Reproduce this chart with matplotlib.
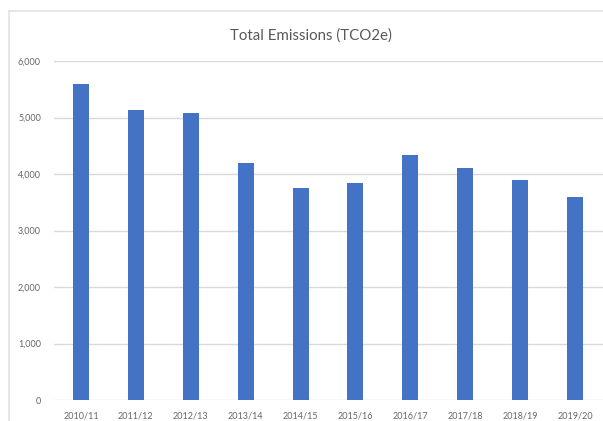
import matplotlib
matplotlib.use("Agg")
import matplotlib.pyplot as plt
from matplotlib.lines import Line2D
from matplotlib.ticker import FuncFormatter

years = ["2010/11", "2011/12", "2012/13", "2013/14", "2014/15",
         "2015/16", "2016/17", "2017/18", "2018/19", "2019/20"]
emissions = [5600, 5130, 5080, 4200, 3750, 3840, 4330, 4110, 3890, 3590]
y_ticks = [0, 1000, 2000, 3000, 4000, 5000, 6000]

W, H = 603, 421
fig = plt.figure(figsize=(W / 100, H / 100), dpi=100)
fig.patch.set_facecolor("white")
plt.rcParams["font.family"] = ["Lato", "DejaVu Sans"]

text_col = "#595959"
grid_col = "#d9d9d9"

# Chart frame (left and top edges)
fig.add_artist(Line2D([9 / W, 9 / W], [0, 1 - 11 / H], color="#e3e3e3", lw=1.2,
                      transform=fig.transFigure))
fig.add_artist(Line2D([9 / W, 1], [1 - 11 / H, 1 - 11 / H], color="#e3e3e3", lw=1.2,
                      transform=fig.transFigure))

left = 53.5 / W
bottom = 21 / H
ax = fig.add_axes([left, bottom, 549 / W, 339 / H])

x = range(len(years))
ax.bar(x, emissions, width=0.29, color="#4472C4", zorder=3)

ax.set_xlim(-0.5, len(years) - 0.5)
ax.set_ylim(0, 6000)
ax.set_yticks(y_ticks)
ax.yaxis.set_major_formatter(FuncFormatter(lambda v, p: f"{int(v):,}"))
ax.set_xticks(list(x))
ax.set_xticklabels(years)

ax.grid(axis="y", color=grid_col, lw=1.0, zorder=0)
ax.set_axisbelow(True)
for s in ax.spines.values():
    s.set_visible(False)
ax.tick_params(axis="both", length=0, colors="#666666", labelsize=6.5)
ax.tick_params(axis="y", pad=9)
ax.tick_params(axis="x", pad=8)

fig.text(311 / W, 1 - 36 / H, "Total Emissions (TCO2e)", ha="center", va="center",
         fontsize=10.8, color=text_col)

fig.savefig("out.png", dpi=100, facecolor="white")
